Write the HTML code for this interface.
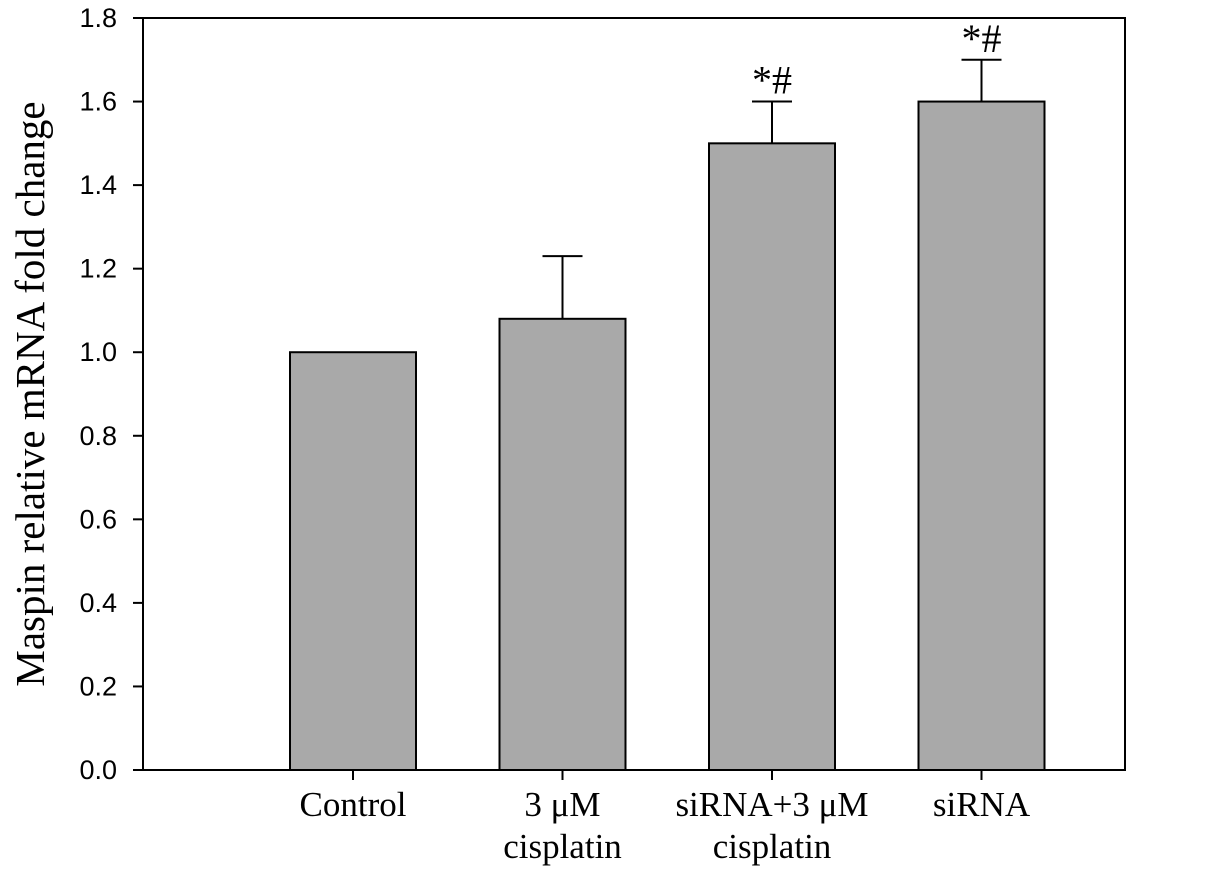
<!DOCTYPE html>
<html><head><meta charset="utf-8"><style>
html,body{margin:0;padding:0;background:#fff;}
svg{display:block;}
</style></head><body>
<svg id="chart" width="1205" height="870" viewBox="0 0 1205 870" xmlns="http://www.w3.org/2000/svg">
<g id="ticks"></g><g id="bars"></g>
<rect x="143" y="18" width="982" height="752" fill="none" stroke="#000" stroke-width="2"/>
<text transform="translate(44,394) rotate(-90)" text-anchor="middle" font-family="Liberation Serif, serif" font-size="41">Maspin relative mRNA fold change</text>
</svg>
<script>
const categories=[["Control"],["3 \u03bcM","cisplatin"],["siRNA+3 \u03bcM","cisplatin"],["siRNA"]];
const values=[1.0,1.08,1.5,1.6];
const errors=[0,0.15,0.1,0.1];
const annotations=["","","*#","*#"];
const yTicks=[0,0.2,0.4,0.6,0.8,1.0,1.2,1.4,1.6,1.8];
const NS="http://www.w3.org/2000/svg";
const y=v=>770-v/1.8*752;
const xc=i=>353+i*209.5;
const bw=126;
function mk(t,a,p){const e=document.createElementNS(NS,t);for(const k in a)e.setAttribute(k,a[k]);p.appendChild(e);return e;}
const tg=document.getElementById('ticks'),bg=document.getElementById('bars');
yTicks.forEach(v=>{
 const l=mk('line',{x1:133,x2:143,y1:y(v),y2:y(v),stroke:'#000','stroke-width':2},tg);
 
 
 const t=mk('text',{x:117,y:y(v)+9,'text-anchor':'end','font-family':'Liberation Sans, sans-serif','font-size':27},tg);
 t.textContent=v.toFixed(1);
 
 
});
values.forEach((v,i)=>{
 const cx=xc(i);
 if(errors[i]>0){
  const e=mk('path',{d:`M${cx} ${y(v)}V${y(v+errors[i])}M${cx-20} ${y(v+errors[i])}H${cx+20}`,stroke:'#000','stroke-width':2,fill:'none'},bg);
  
  
 }
 const r=mk('rect',{x:cx-bw/2,y:y(v),width:bw,height:770-y(v),fill:'#a9a9a9',stroke:'#000','stroke-width':2},bg);
 
 
 if(annotations[i]){
  const a=mk('text',{x:cx,y:y(v+errors[i])-8,'text-anchor':'middle','font-family':'Liberation Serif, serif','font-size':40},bg);
  a.textContent=annotations[i];
  
  
 }
 const tk=mk('line',{x1:cx,x2:cx,y1:770,y2:780,stroke:'#000','stroke-width':2},bg);
 
 
 categories[i].forEach((s,j)=>{
  const t=mk('text',{x:cx,y:816+j*42,'text-anchor':'middle','font-family':'Liberation Serif, serif','font-size':35},bg);
  t.textContent=s;
  
  
 });
});
</script>
</body></html>
